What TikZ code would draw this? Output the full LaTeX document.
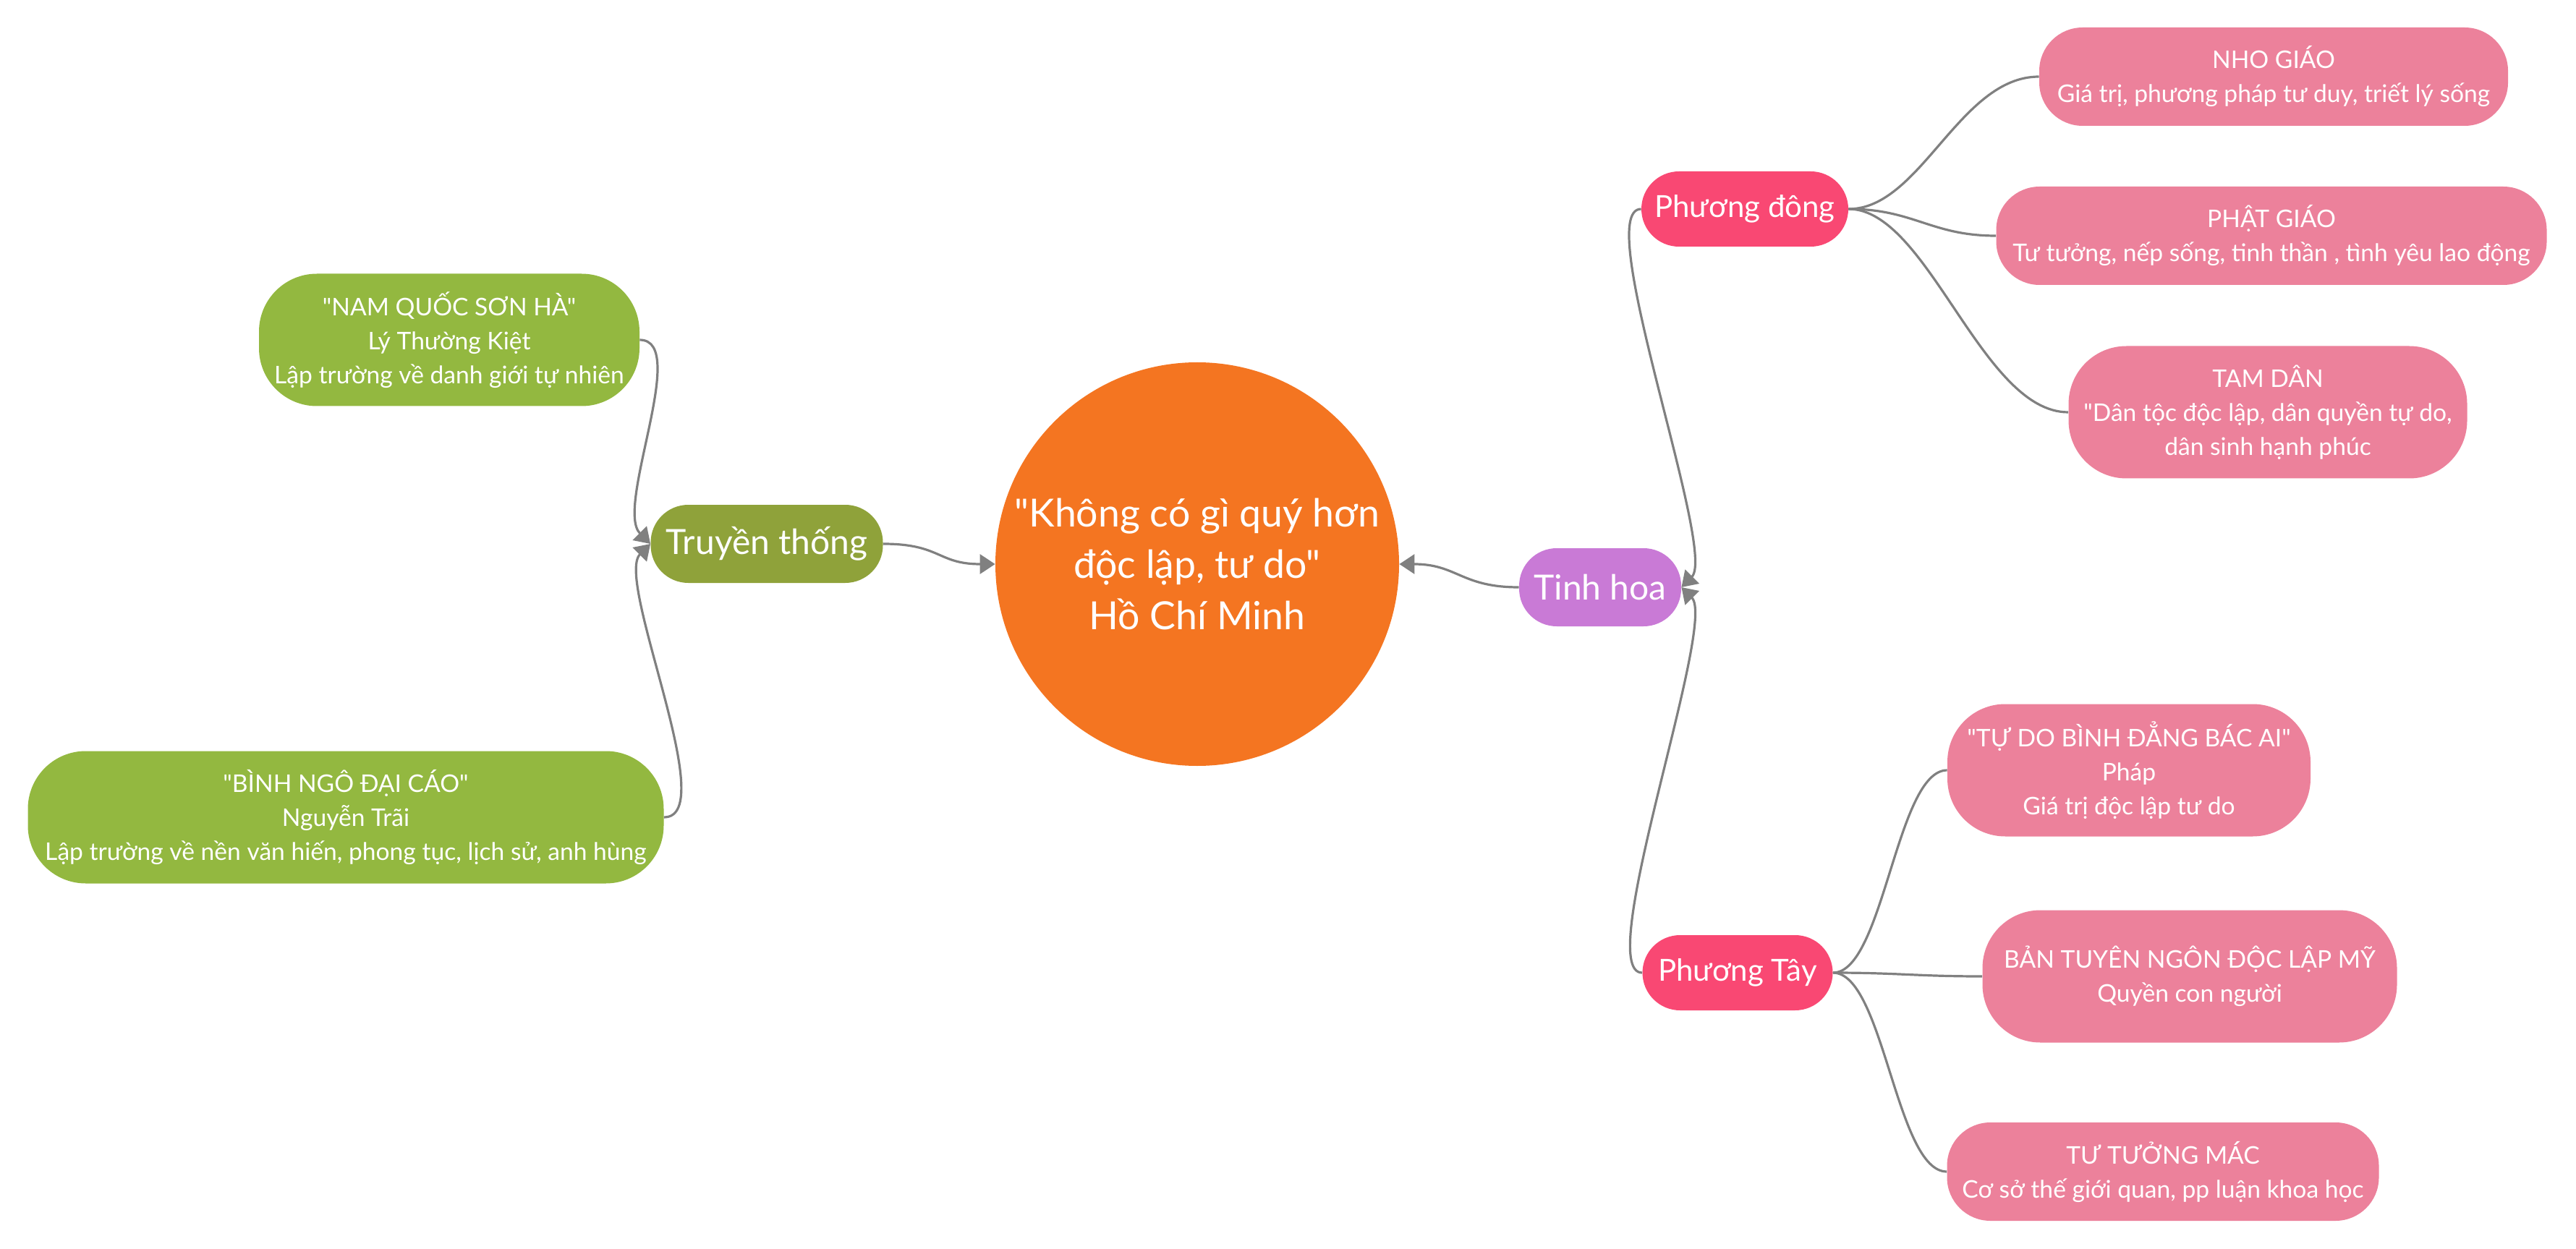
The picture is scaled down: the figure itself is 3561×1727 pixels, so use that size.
\documentclass[tikz,border=0pt]{standalone}
\usepackage{fontspec}
\setmainfont{Lato}[Ligatures=TeXOff]
\usetikzlibrary{arrows.meta}
\definecolor{orangec}{HTML}{F47521}
\definecolor{olivec}{HTML}{8FA23A}
\definecolor{greenc}{HTML}{93B840}
\definecolor{purplec}{HTML}{C97AD6}
\definecolor{redc}{HTML}{F94873}
\definecolor{pinkc}{HTML}{EC819B}
\definecolor{linec}{HTML}{808080}
\begin{document}
\begin{tikzpicture}[x=0.5pt,y=-0.5pt,
  box/.style={draw=none, text=white, align=center, inner sep=0pt},
  leaf/.style={box, font=\fontsize{16.8}{23.5}\selectfont},
  tall/.style={leaf, minimum height=91.5pt, rounded corners=40pt},
  short/.style={leaf, minimum height=68pt, rounded corners=30pt},
  mid/.style={box, minimum height=54pt, rounded corners=26pt},
  link/.style={draw=linec, line width=1.6pt},
  arr/.style={link, -{Triangle[length=10.5pt,width=13.5pt]}}
]
\useasboundingbox (0,0) rectangle (3561,1727);

% centre
\node[box, circle, fill=orangec, minimum size=279pt, font=\fontsize{26.8}{35.5}\selectfont]
  (hcm) at (1655,780) {"Không có gì quý hơn\\độc lập, tư do"\\Hồ Chí Minh};

% left branch
\node[mid, fill=olivec, minimum width=160.5pt, font=\fontsize{24}{28}\selectfont]
  (tt) at (1060,752) {Truyền thống};
\node[tall, fill=greenc, minimum width=263pt]
  (nam) at (621,470) {"NAM QUỐC SƠN HÀ"\\Lý Thường Kiệt\\Lập trường về danh giới tự nhiên};
\node[tall, fill=greenc, minimum width=439.5pt]
  (binh) at (478,1130) {"BÌNH NGÔ ĐẠI CÁO"\\Nguyễn Trãi\\Lập trường về nền văn hiến, phong tục, lịch sử, anh hùng};

% right branch
\node[mid, fill=purplec, minimum width=112pt, font=\fontsize{24}{28}\selectfont]
  (th) at (2212,812) {Tinh hoa};
\node[mid, fill=redc, minimum width=143pt, minimum height=52pt, font=\fontsize{21}{25}\selectfont]
  (pd) at (2412,289) {Phương đông};
\node[mid, fill=redc, minimum width=131.5pt, minimum height=52pt, font=\fontsize{21}{25}\selectfont]
  (pt) at (2402,1345) {Phương Tây};

\node[short, fill=pinkc, minimum width=324pt]
  (nho) at (3143,106) {NHO GIÁO\\Giá trị, phương pháp tư duy, triết lý sống};
\node[short, fill=pinkc, minimum width=380.5pt]
  (phat) at (3140,326) {PHẬT GIÁO\\Tư tưởng, nếp sống, tinh thần , tình yêu lao động};
\node[tall, fill=pinkc, minimum width=275.5pt]
  (tam) at (3135,570) {TAM DÂN\\"Dân tộc độc lập, dân quyền tự do,\\dân sinh hạnh phúc};

\node[tall, fill=pinkc, minimum width=251pt]
  (tudo) at (2943,1065) {"TỰ DO BÌNH ĐẲNG BÁC AI"\\Pháp\\Giá trị độc lập tư do};
\node[tall, fill=pinkc, minimum width=286.5pt]
  (ban) at (3027,1350) {BẢN TUYÊN NGÔN ĐỘC LẬP MỸ\\Quyền con người};
\node[short, fill=pinkc, minimum width=298.5pt]
  (mac) at (2990,1620) {TƯ TƯỞNG MÁC\\Cơ sở thế giới quan, pp luận khoa học};

% connectors, left
\draw[arr] (nam.east) .. controls +(70,0) and +(-50,-50) .. (tt.west);
\draw[arr] (binh.east) .. controls +(80,0) and +(-50,50) .. (tt.west);
\draw[arr] (tt.east) .. controls +(80,0) and +(-80,0) .. (hcm.west);

% connectors, right
\draw[arr] (th.west) .. controls +(-80,0) and +(80,0) .. (hcm.east);
\draw[arr] (pd.west) .. controls +(-70,0) and +(50,-50) .. (th.east);
\draw[arr] (pt.west) .. controls +(-70,0) and +(50,50) .. (th.east);

\draw[link] (pd.east) .. controls +(100,0) and +(-110,0) .. (nho.west);
\draw[link] (pd.east) .. controls +(90,0) and +(-90,0) .. (phat.west);
\draw[link] (pd.east) .. controls +(110,0) and +(-120,0) .. (tam.west);

\draw[link] (pt.east) .. controls +(70,0) and +(-70,0) .. (tudo.west);
\draw[link] (pt.east) .. controls +(90,0) and +(-90,0) .. (ban.west);
\draw[link] (pt.east) .. controls +(70,0) and +(-70,0) .. (mac.west);
\end{tikzpicture}
\end{document}
